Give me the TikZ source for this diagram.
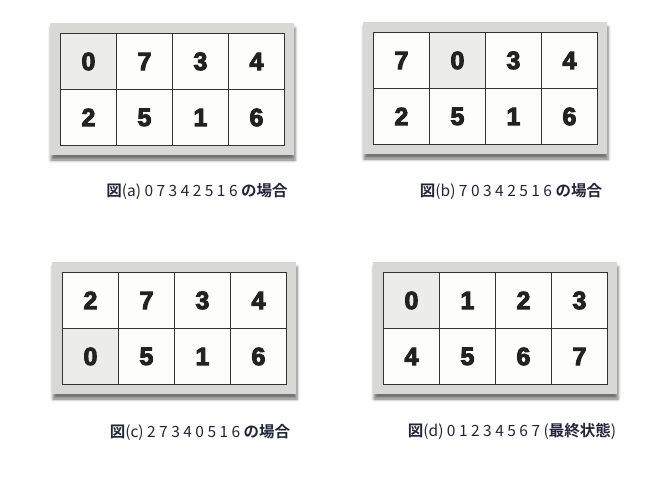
\documentclass[tikz,border=0pt]{standalone}
\usepackage{fontspec}
\setmainfont{Liberation Sans}
\newfontfamily\jpfont{Noto Sans CJK JP}[BoldFont={Noto Sans CJK JP Bold}]
\newfontfamily\tilefont{Liberation Sans Bold}[FakeBold=4]
\usetikzlibrary{shadows.blur}

\definecolor{framegray}{HTML}{D8D9D6}
\definecolor{blankgray}{HTML}{ECEDEA}
\definecolor{cellwhite}{HTML}{FDFDFB}
\definecolor{captionnavy}{HTML}{23243A}
\definecolor{digitblack}{HTML}{222222}

\tikzset{
  board/.style={fill=framegray, blur shadow={shadow xshift=1pt, shadow yshift=-5pt, shadow blur radius=3pt, shadow opacity=55}},
  tile/.style={draw=black!80, line width=0.9pt, fill=cellwhite, minimum width=56pt, minimum height=56pt, inner sep=0pt, anchor=north west, text=digitblack, font=\tilefont\fontsize{25}{25}\selectfont},
  blank/.style={tile, fill=blankgray},
  caption/.style={text=captionnavy, font=\jpfont\fontsize{15.5}{16}\selectfont}
}

% one 2x4 board: name, left, top, entries (0 is the blank)
\newcommand\drawboard[4]{%
  \fill[board] (#2-10,#3-10) rectangle (#2+234,#3+122);
  \foreach \v [count=\k from 0] in {#4} {
    \pgfmathtruncatemacro\col{mod(\k,4)}
    \pgfmathtruncatemacro\row{div(\k,4)}
    \ifnum\v=0 \def\look{blank}\else\def\look{tile}\fi
    \node[\look] (#1-\k) at (#2+\col*56,#3+\row*56) {\v};
  }
}

\begin{document}
\begin{tikzpicture}[x=1pt,y=-1pt]

  \useasboundingbox (0,0) rectangle (658,477);

  % Boards
  \drawboard{a}{60}{33}{0,7,3,4,2,5,1,6}
  \drawboard{b}{373}{32}{7,0,3,4,2,5,1,6}
  \drawboard{c}{62}{272}{2,7,3,4,0,5,1,6}
  \drawboard{d}{383}{272}{0,1,2,3,4,5,6,7}

  % Captions
  \node[caption] (capa) at (197,191) {\textbf{図}(a) 0 7 3 4 2 5 1 6 \textbf{の場合}};
  \node[caption] (capb) at (511,191) {\textbf{図}(b) 7 0 3 4 2 5 1 6 \textbf{の場合}};
  \node[caption] (capc) at (200,432) {\textbf{図}(c) 2 7 3 4 0 5 1 6 \textbf{の場合}};
  \node[caption] (capd) at (512,431) {\textbf{図}(d) 0 1 2 3 4 5 6 7 (\textbf{最終状態})};

\end{tikzpicture}
\end{document}
